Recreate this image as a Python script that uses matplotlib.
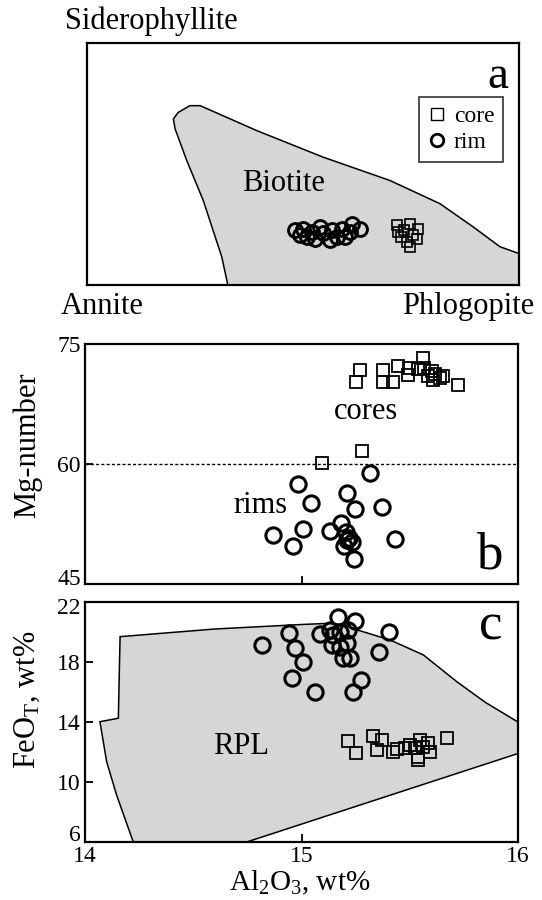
import matplotlib
matplotlib.use("Agg")
import matplotlib.pyplot as plt
from matplotlib.patches import Polygon
from matplotlib.transforms import ScaledTranslation

plt.rcParams['font.family'] = ['Liberation Serif', 'DejaVu Serif']
plt.rcParams['mathtext.fontset'] = 'custom'
plt.rcParams['mathtext.rm'] = 'Liberation Serif'
plt.rcParams['mathtext.it'] = 'Liberation Serif:italic'

# ---- panel a: biotite classification (normalised Annite-Phlogopite / Siderophyllite axes)
biotite_field_x = [0.326, 0.312, 0.269, 0.231, 0.204, 0.200, 0.211, 0.238, 0.262,
                   0.393, 0.547, 0.701, 0.817, 0.894, 0.956, 1.0, 1.0]
biotite_field_y = [0.0, 0.116, 0.350, 0.514, 0.645, 0.686, 0.713, 0.741, 0.741,
                   0.638, 0.528, 0.432, 0.336, 0.240, 0.158, 0.130, 0.0]
a_rim_x = [0.481, 0.501, 0.520, 0.539, 0.547, 0.566, 0.578, 0.590, 0.609, 0.613,
           0.632, 0.509, 0.528, 0.563, 0.597, 0.493]
a_rim_y = [0.226, 0.233, 0.219, 0.240, 0.213, 0.226, 0.199, 0.233, 0.219, 0.254,
           0.233, 0.199, 0.192, 0.185, 0.199, 0.206]
a_core_x = [0.717, 0.733, 0.748, 0.728, 0.755, 0.740, 0.763, 0.748, 0.721, 0.767]
a_core_y = [0.247, 0.226, 0.254, 0.199, 0.206, 0.178, 0.192, 0.158, 0.219, 0.233]

# ---- panel b: Mg-number vs Al2O3
b_core_al = [15.270, 15.251, 15.378, 15.378, 15.421, 15.447, 15.498, 15.490, 15.563,
             15.566, 15.601, 15.617, 15.640, 15.655, 15.586, 15.609, 15.540, 15.724,
             15.281, 15.093]
b_core_mg = [71.75, 70.2, 71.75, 70.2, 70.2, 72.2, 72.0, 71.1, 73.2,
             72.0, 71.6, 71.2, 70.75, 70.96, 70.96, 70.5, 71.9, 69.9,
             61.6, 60.1]
b_rim_al = [15.316, 14.982, 15.044, 15.212, 15.247, 15.370, 14.870, 15.008, 14.962,
            15.132, 15.182, 15.206, 15.221, 15.232, 15.196, 15.432, 15.243, 15.212]
b_rim_mg = [58.84, 57.46, 55.16, 56.34, 54.38, 54.66, 51.1, 51.84, 49.75,
            51.66, 52.59, 51.54, 50.71, 50.29, 49.75, 50.63, 48.09, 50.5]
mg_divide = 60

# ---- panel c: FeOT vs Al2O3
rpl_al = [14.069, 14.154, 14.162, 14.60, 15.000, 15.132, 15.200, 15.255, 15.409,
          15.563, 15.717, 15.850, 16.0, 16.0, 14.747, 14.223, 14.146, 14.100]
rpl_feo = [14.02, 14.25, 19.69, 20.2, 20.50, 20.58, 20.45, 20.15, 19.47,
           18.47, 16.69, 15.30, 14.0, 11.9, 6.0, 6.0, 9.13, 11.35]
c_rim_al = [15.170, 15.247, 15.404, 14.944, 15.085, 15.132, 15.178, 15.216, 14.816,
            14.970, 15.140, 15.178, 15.209, 15.359, 15.008, 15.193, 15.224, 14.955,
            15.273, 15.062, 15.239, 15.147]
c_rim_feo = [21.02, 20.75, 19.98, 19.91, 19.85, 20.13, 20.02, 20.13, 19.13,
             18.91, 19.13, 19.02, 19.25, 18.69, 18.02, 18.25, 18.25, 16.91,
             16.8, 16.02, 16.02, 19.8]
c_core_al = [15.216, 15.250, 15.332, 15.370, 15.347, 15.424, 15.440, 15.478, 15.501,
             15.547, 15.586, 15.539, 15.539, 15.594, 15.674, 15.524, 15.563]
c_core_feo = [12.73, 11.91, 13.09, 12.8, 12.13, 12.02, 12.18, 12.25, 12.47,
              12.8, 12.58, 11.69, 11.47, 11.98, 12.91, 12.25, 12.35]

al_ticks = [14, 15, 16]
mg_ticks = [45, 60, 75]
feo_ticks = [6, 10, 14, 18, 22]

FILL = '#d6d6d6'
LBL = 22
TICK = 17

fig = plt.figure(figsize=(5.42, 9.0), dpi=100)
W, H = 542.0, 900.0


def add_ax(l, t, r, b):
    return fig.add_axes([l / W, 1 - b / H, (r - l) / W, (b - t) / H])


def frame(ax):
    for s in ax.spines.values():
        s.set_linewidth(1.6)
        s.set_color('black')
    ax.tick_params(direction='in', length=6, width=1.3, labelsize=TICK, pad=3)
    ax.tick_params(axis='x', pad=3)


def nudge(label, dy_px):
    label.set_transform(label.get_transform() +
                        ScaledTranslation(0, dy_px / 100.0, fig.dpi_scale_trans))


# panel a
ax_a = add_ax(87, 43, 519, 285)
frame(ax_a)
ax_a.set_xlim(0, 1)
ax_a.set_ylim(0, 1)
ax_a.set_xticks([])
ax_a.set_yticks([])
ax_a.add_patch(Polygon(list(zip(biotite_field_x, biotite_field_y)), closed=True,
                       facecolor=FILL, edgecolor='black', linewidth=1.1))
ax_a.plot(a_rim_x, a_rim_y, 'o', ms=10, mfc='none', mec='black', mew=2.1)
ax_a.plot(a_core_x, a_core_y, 's', ms=7.5, mfc='none', mec='black', mew=1.2)
ax_a.text(0.455, 0.42, 'Biotite', fontsize=LBL, ha='center', va='center')
ax_a.text(0.975, 0.86, 'a', fontsize=34, ha='right', va='center')
ax_a.text(-0.05, 1.09, 'Siderophyllite', fontsize=LBL, ha='left', va='center',
          transform=ax_a.transAxes, clip_on=False)
ax_a.text(-0.06, -0.09, 'Annite', fontsize=LBL, ha='left', va='center',
          transform=ax_a.transAxes, clip_on=False)
ax_a.text(1.035, -0.09, 'Phlogopite', fontsize=LBL, ha='right', va='center',
          transform=ax_a.transAxes, clip_on=False)
# legend box
h_core, = ax_a.plot([], [], 's', ms=8, mfc='none', mec='black', mew=1.0)
h_rim, = ax_a.plot([], [], 'o', ms=9, mfc='none', mec='black', mew=2.0)
leg = ax_a.legend([h_core, h_rim], ['core', 'rim'], loc='upper right',
                  bbox_to_anchor=(0.962, 0.775), fontsize=17, frameon=True,
                  fancybox=False, edgecolor='black', handlelength=0.8,
                  handletextpad=0.3, borderpad=0.35, labelspacing=0.2,
                  borderaxespad=0)
leg.get_frame().set_linewidth(1.2)

# panel b
ax_b = add_ax(85, 344, 518, 584)
frame(ax_b)
ax_b.set_xlim(14, 16)
ax_b.set_ylim(45, 75)
ax_b.set_xticks([15])
ax_b.set_xticklabels([])
ax_b.set_yticks(mg_ticks)
ax_b.axhline(mg_divide, color='black', lw=1.0, ls=(0, (2.2, 1.6)))
ax_b.plot(b_core_al, b_core_mg, 's', ms=8.5, mfc='none', mec='black', mew=1.3)
ax_b.plot(b_rim_al, b_rim_mg, 'o', ms=11, mfc='none', mec='black', mew=2.2)
ax_b.text(15.3, 66.6, 'cores', fontsize=LBL, ha='center', va='center')
ax_b.text(14.81, 54.8, 'rims', fontsize=LBL, ha='center', va='center')
ax_b.text(15.93, 48.6, 'b', fontsize=38, ha='right', va='center')
fig.text(27 / W, 1 - 445 / H, 'Mg-number', fontsize=LBL, rotation=90,
         ha='center', va='center')

# panel c
ax_c = add_ax(85, 602, 518, 842)
frame(ax_c)
ax_c.set_xlim(14, 16)
ax_c.set_ylim(6, 22)
ax_c.set_xticks(al_ticks)
ax_c.set_yticks(feo_ticks)
ax_c.add_patch(Polygon(list(zip(rpl_al, rpl_feo)), closed=True,
                       facecolor=FILL, edgecolor='black', linewidth=1.1))
ax_c.plot(c_rim_al, c_rim_feo, 'o', ms=11, mfc='none', mec='black', mew=2.2)
ax_c.plot(c_core_al, c_core_feo, 's', ms=8.5, mfc='none', mec='black', mew=1.3)
ax_c.text(14.72, 12.35, 'RPL', fontsize=LBL, ha='center', va='center')
ax_c.text(15.93, 20.4, 'c', fontsize=38, ha='right', va='center')
fig.text(300 / W, 1 - 883 / H, 'Al$_2$O$_3$, wt%', fontsize=21,
         ha='center', va='center')
fig.text(27 / W, 1 - 700 / H, 'FeO$_{\\mathrm{T}}$, wt%', fontsize=LBL, rotation=90,
         ha='center', va='center')

# keep the end labels of the stacked y axes clear of each other
fig.canvas.draw()
nudge(ax_b.get_yticklabels()[0], 7)
nudge(ax_c.get_yticklabels()[-1], -4)
nudge(ax_c.get_yticklabels()[0], 9)

fig.savefig('out.png', dpi=100)
